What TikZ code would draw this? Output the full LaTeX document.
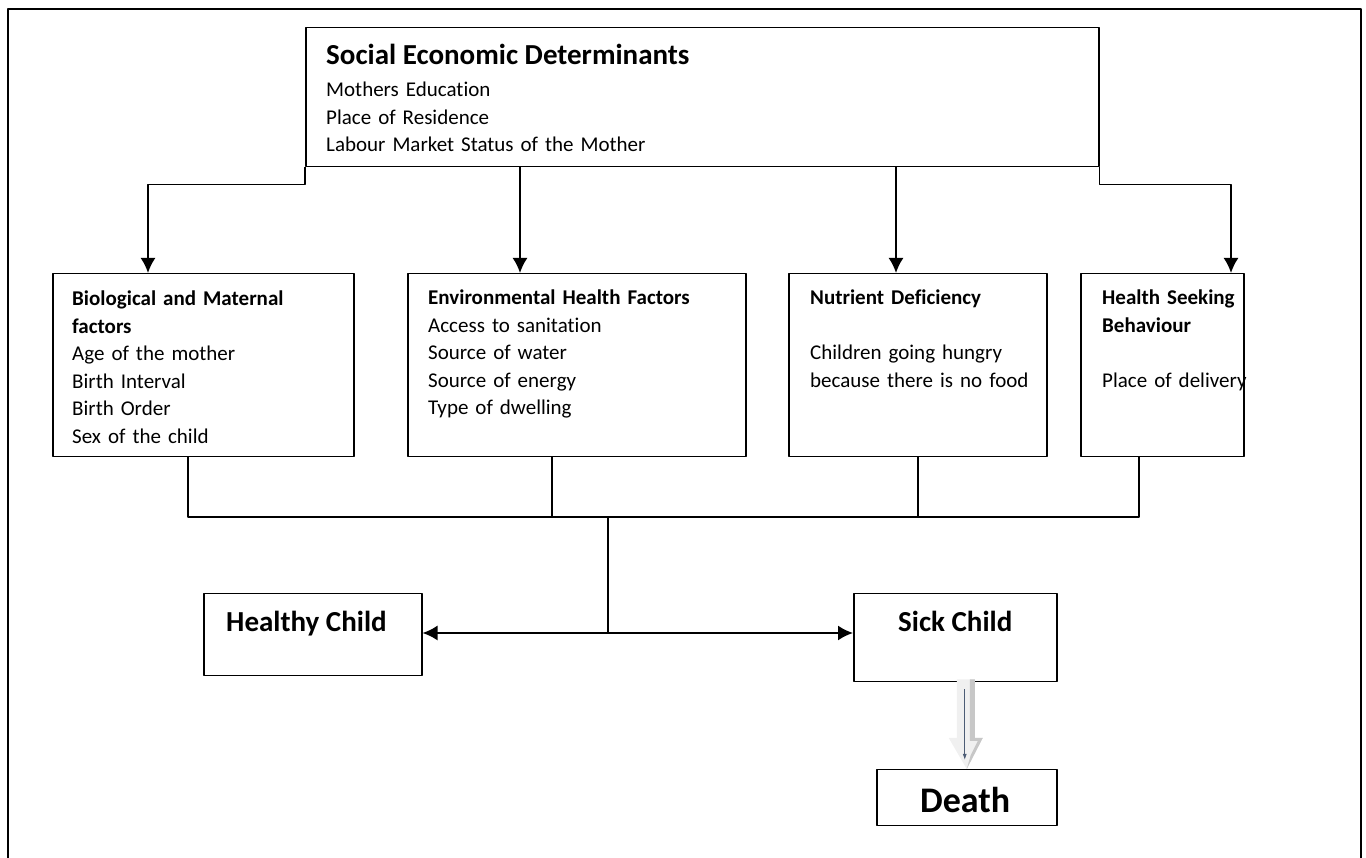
\documentclass[tikz,border=0pt]{standalone}
\usepackage{fontspec}
\setmainfont{Carlito}[Ligatures=CommonOff]
\usetikzlibrary{arrows.meta,positioning,calc}

\definecolor{arrowlight}{rgb}{0.94,0.94,0.94}
\definecolor{arrowshade}{rgb}{0.78,0.78,0.78}
\definecolor{slate}{rgb}{0.30,0.36,0.46}

\tikzset{
  box/.style={draw=black, line width=1.5bp, inner sep=0pt, anchor=north west},
  boxtext/.style={anchor=base west, inner sep=0pt, align=left, text width=#1,
    font=\fontsize{21bp}{27.5bp}\selectfont},
  boxtext/.default=300bp,
  headtext/.style={anchor=base west, inner sep=0pt, font=\fontsize{29bp}{32bp}\selectfont\bfseries},
  link/.style={line width=1.8bp},
}

\begin{document}
\begin{tikzpicture}[>={Latex[length=15bp,width=15bp]},line join=bevel]
  \useasboundingbox (0bp,0bp) rectangle (1366bp,858bp);
  % frame
  \draw[line width=1.6bp] (8bp,-10bp) -- (8bp,849bp) -- (1361bp,849bp) -- (1361bp,-10bp);
%%
  % Node: soc
  \node[box, minimum width=793bp, minimum height=139bp] (soc) at (305bp,831bp) {};
  \node[headtext] (socHead) at (326bp,793bp) {Social Economic Determinants};
  \node[boxtext=500bp] (socList) at (326bp,761bp) {Mothers Education\\Place of Residence\\Labour Market Status of the Mother};
  % Node: bio
  \node[box, minimum width=301bp, minimum height=183bp] (bio) at (52bp,585bp) {};
  \node[boxtext=280bp] (bioText) at (72bp,552bp) {\textbf{Biological and Maternal}\\\textbf{factors}\\Age of the mother\\Birth Interval\\Birth Order\\Sex of the child};
  % Node: env
  \node[box, minimum width=338bp, minimum height=183bp] (env) at (407bp,585bp) {};
  \node[boxtext=310bp] (envText) at (428bp,553bp) {\textbf{Environmental Health Factors}\\Access to sanitation\\Source of water\\Source of energy\\Type of dwelling};
  % Node: nut
  \node[box, minimum width=258bp, minimum height=183bp] (nut) at (788bp,585bp) {};
  \node[boxtext=240bp] (nutText) at (810bp,553bp) {\textbf{Nutrient Deficiency}\\[27.5bp]Children going hungry\\because there is no food};
  % Node: hsb
  \node[box, minimum width=163bp, minimum height=183bp] (hsb) at (1080bp,585bp) {};
  \node[boxtext=150bp] (hsbText) at (1102bp,553bp) {\textbf{Health Seeking}\\\textbf{Behaviour}\\[27.5bp]Place of delivery};
  % Node: healthy
  \node[box, minimum width=218bp, minimum height=82bp] (healthy) at (203bp,265bp) {};
  \node[headtext] (healthyText) at (226bp,226bp) {Healthy Child};
  % Node: sick
  \node[box, minimum width=203bp, minimum height=88bp] (sick) at (853bp,265bp) {};
  \node[headtext] (sickText) at (898bp,226bp) {Sick Child};
  % Node: death
  \node[box, minimum width=180bp, minimum height=56bp] (death) at (876bp,89bp) {};
  \node[headtext, font=\fontsize{36bp}{40bp}\selectfont\bfseries] (deathText) at (920bp,45bp) {Death};
%%
  \coordinate (bioIn) at ($(bio.north west)+(96bp,0)$);
  \coordinate (envIn) at ($(env.north west)+(113bp,0)$);
  \coordinate (nutIn) at ($(nut.north west)+(108bp,0)$);
  \coordinate (hsbIn) at ($(hsb.north west)+(151bp,0)$);
  % Edge: soc -> bio
  \draw[link,->] (soc.south west) -- ++(0,-17bp) -| (bioIn);
  % Edge: soc -> env
  \draw[link,->] (soc.south -| envIn) -- (envIn);
  % Edge: soc -> nut
  \draw[link,->] (soc.south -| nutIn) -- (nutIn);
  % Edge: soc -> hsb
  \draw[link,->] (soc.south east) -- ++(0,-17bp) -| (hsbIn);
%%
  \coordinate (bioOut) at ($(bio.south west)+(136bp,0)$);
  \coordinate (envOut) at ($(env.south west)+(145bp,0)$);
  \coordinate (nutOut) at ($(nut.south west)+(130bp,0)$);
  \coordinate (hsbOut) at ($(hsb.south west)+(59bp,0)$);
  \coordinate (hub) at (608bp,341bp);
  \coordinate (fork) at (608bp,225bp);
  % Edge: factors -> hub
  \draw[link] (bioOut) -- (bioOut |- hub) -- (hsbOut |- hub) -- (hsbOut);
  \draw[link] (envOut) -- (envOut |- hub);
  \draw[link] (nutOut) -- (nutOut |- hub);
  % Edge: hub -> healthy, sick
  \draw[link] (hub) -- (fork);
  \draw[link,<->] (healthy.east |- fork) -- (sick.west |- fork);
%%
  % Edge: sick -> death
  \coordinate (dTop) at (death.north |- sick.south);
  \fill[arrowlight] ($(dTop)+(-10bp,3bp)$) -- ($(dTop)+(8bp,3bp)$) -- ($(death.north)+(8bp,31bp)$)
    -- ($(death.north)+(16bp,31bp)$) -- (death.north) -- ($(death.north)+(-18bp,31bp)$)
    -- ($(death.north)+(-10bp,31bp)$) -- cycle;
  \fill[arrowshade] ($(dTop)+(3bp,3bp)$) -- ($(dTop)+(8bp,3bp)$) -- ($(death.north)+(8bp,31bp)$)
    -- ($(death.north)+(16bp,31bp)$) -- (death.north) -- ($(death.north)+(4bp,14bp)$)
    -- ($(death.north)+(11bp,28bp)$) -- ($(death.north)+(3bp,28bp)$) -- cycle;
  \draw[slate, line width=0.9bp, -{Latex[length=6bp,width=4bp]}] ($(dTop)+(-2bp,-7bp)$) -- ($(death.north)+(-2bp,9bp)$);
%
\end{tikzpicture}
\end{document}
